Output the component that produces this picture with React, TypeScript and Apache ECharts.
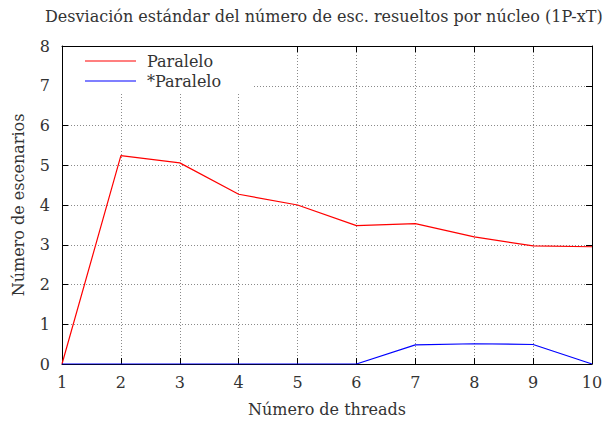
import React, { useEffect, useRef } from "react";
import * as echarts from "echarts";

const threads = [1, 2, 3, 4, 5, 6, 7, 8, 9, 10];
const paralelo = [0, 5.24, 5.06, 4.27, 4.0, 3.48, 3.53, 3.2, 2.97, 2.95];
const paraleloStar = [0, 0, 0, 0, 0, 0, 0.48, 0.51, 0.49, 0];
const yTicks = [0, 1, 2, 3, 4, 5, 6, 7, 8];

const FONT = "DejaVu Serif";

export default function App() {
  const ref = useRef<HTMLDivElement>(null);

  useEffect(() => {
    if (!ref.current) return;
    const chart = echarts.init(ref.current, undefined, { renderer: "svg" });
    const pairs = (ys: number[]) => threads.map((t, i) => [t, ys[i]]);
    const gridLine = { show: true, lineStyle: { color: "#8a8a8a", width: 1, type: [1, 2] as any } };
    const tick = { show: true, inside: true, length: 6, lineStyle: { color: "#000", width: 1 } };
    const label = { color: "#333", fontFamily: FONT, fontSize: 16 };

    chart.setOption({
      animation: false,
      backgroundColor: "#fff",
      title: {
        text: "Desviación estándar del número de esc. resueltos por núcleo (1P-xT)",
        left: 40,
        top: 3,
        textStyle: { color: "#333", fontFamily: FONT, fontSize: 16, fontWeight: "normal" },
      },
      legend: {
        orient: "vertical",
        left: 63,
        top: 47,
        padding: [6, 32, 5, 22],
        backgroundColor: "#fff",
        itemWidth: 51,
        itemHeight: 14,
        itemGap: 4,
        icon: "path://M0,6.5H51V7.6H0Z",
        textStyle: { color: "#333", fontFamily: FONT, fontSize: 16, lineHeight: 14, padding: [0, 0, 0, 6] },
        data: ["Paralelo", "*Paralelo"],
      },
      grid: { left: 62, right: 18, top: 46, bottom: 59 },
      xAxis: [
        {
          type: "value",
          min: 1,
          max: 10,
          interval: 1,
          name: "Número de threads",
          nameLocation: "middle",
          nameGap: 37,
          nameTextStyle: label,
          axisLine: { show: true, lineStyle: { color: "#000", width: 1 } },
          axisTick: tick,
          axisLabel: { ...label, margin: 10 },
          splitLine: gridLine,
        },
        {
          type: "value",
          position: "top",
          min: 1,
          max: 10,
          interval: 1,
          axisLine: { show: true, onZero: false, lineStyle: { color: "#000", width: 1 } },
          axisTick: tick,
          axisLabel: { show: false },
          splitLine: { show: false },
        },
      ],
      yAxis: [
        {
          type: "value",
          min: yTicks[0],
          max: yTicks[yTicks.length - 1],
          interval: 1,
          name: "Número de escenarios",
          nameLocation: "middle",
          nameGap: 36,
          nameTextStyle: label,
          axisLine: { show: true, lineStyle: { color: "#000", width: 1 } },
          axisTick: tick,
          axisLabel: { ...label, margin: 12 },
          splitLine: gridLine,
        },
        {
          type: "value",
          position: "right",
          min: yTicks[0],
          max: yTicks[yTicks.length - 1],
          interval: 1,
          axisLine: { show: true, onZero: false, lineStyle: { color: "#000", width: 1 } },
          axisTick: tick,
          axisLabel: { show: false },
          splitLine: { show: false },
        },
      ],
      series: [
        {
          name: "Paralelo",
          type: "line",
          data: pairs(paralelo),
          symbol: "none",
          lineStyle: { color: "#ff0000", width: 1.2 },
          itemStyle: { color: "#ff0000" },
          z: 3,
        },
        {
          name: "*Paralelo",
          type: "line",
          data: pairs(paraleloStar),
          symbol: "none",
          lineStyle: { color: "#0000ff", width: 1.2 },
          itemStyle: { color: "#0000ff" },
          z: 3,
        },
      ],
    });

    return () => chart.dispose();
  }, []);

  return <div ref={ref} style={{ width: 610, height: 423, position: "absolute", left: 0, top: 0 }} />;
}
